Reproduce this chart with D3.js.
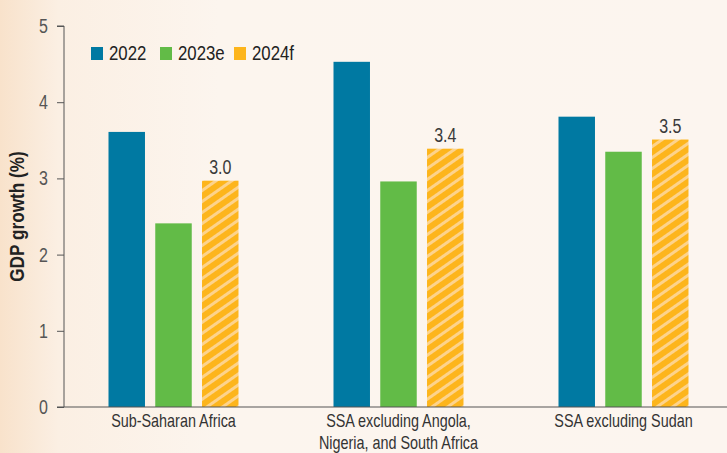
<!DOCTYPE html>
<html>
<head>
<meta charset="utf-8">
<script src="https://cdn.jsdelivr.net/npm/d3@7"></script>
<style>
  html, body { margin: 0; padding: 0; }
  body { width: 727px; height: 453px; overflow: hidden; }
  svg { display: block; font-family: "Liberation Sans", Arial, sans-serif; }
</style>
</head>
<body>
<div id="chart"></div>
<script>
// chart data
var categories = ["Sub-Saharan Africa", "SSA excluding Angola, Nigeria, and South Africa", "SSA excluding Sudan"];
var categoryLines = [["Sub-Saharan Africa"], ["SSA excluding Angola,", "Nigeria, and South Africa"], ["SSA excluding Sudan"]];
var series = ["2022", "2023e", "2024f"];
var values2022 = [3.61, 4.53, 3.81];
var values2023 = [2.41, 2.96, 3.35];
var values2024 = [2.97, 3.39, 3.51];
var labels2024 = ["3.0", "3.4", "3.5"];
var yTicks = [0, 1, 2, 3, 4, 5];

var colors = { "2022": "#0079a2", "2023e": "#62bb47", "2024f": "url(#hatch)" };
var legendColors = { "2022": "#0079a2", "2023e": "#62bb47", "2024f": "#fdb51c" };

// the original uses a condensed face; squeeze Liberation Sans horizontally
var SQ = 0.8;
function squeeze(sel, sx) {
  sel.each(function() {
    var t = d3.select(this);
    var x = +t.attr("x") || 0, y = +t.attr("y") || 0;
    t.attr("x", null).attr("y", null)
      .attr("transform", "translate(" + x + "," + y + ") scale(" + sx + ",1)");
  });
}

var W = 727, H = 453;
var svg = d3.select("#chart").append("svg").attr("width", W).attr("height", H);

var defs = svg.append("defs");
var grad = defs.append("linearGradient").attr("id", "bg").attr("x1", 0).attr("x2", 1).attr("y1", 0).attr("y2", 0);
grad.append("stop").attr("offset", "0%").attr("stop-color", "#f8e2cb");
grad.append("stop").attr("offset", "8%").attr("stop-color", "#fbefe3");
grad.append("stop").attr("offset", "30%").attr("stop-color", "#fcf5ee");
grad.append("stop").attr("offset", "100%").attr("stop-color", "#fcf5ef");

var hatch = defs.append("pattern").attr("id", "hatch")
  .attr("patternUnits", "userSpaceOnUse").attr("width", 9).attr("height", 9)
  .attr("patternTransform", "rotate(-35)");
hatch.append("rect").attr("width", 9).attr("height", 9).attr("fill", "#fdb51c");
hatch.append("rect").attr("width", 9).attr("height", 3).attr("fill", "#fdd38c");

svg.append("rect").attr("width", W).attr("height", H).attr("fill", "url(#bg)");

var margin = { left: 64, top: 26, bottom: 46 };
var y = d3.scaleLinear().domain([0, 5]).range([H - margin.bottom, margin.top]);
var x0 = d3.scaleBand().domain(categories).range([61, 736]);
var x1 = d3.scaleBand().domain(series).range([-65, 65]).paddingInner(0.22);

var rows = categories.map(function(c, i) {
  return { cat: c, vals: [
    { s: "2022", v: values2022[i] },
    { s: "2023e", v: values2023[i] },
    { s: "2024f", v: values2024[i], label: labels2024[i] }
  ] };
});

// bars
var groups = svg.selectAll("g.grp").data(rows).enter().append("g")
  .attr("class", "grp")
  .attr("transform", function(d) { return "translate(" + (x0(d.cat) + x0.bandwidth() / 2) + ",0)"; });

groups.selectAll("rect").data(function(d) { return d.vals; }).enter().append("rect")
  .attr("x", function(d) { return x1(d.s); })
  .attr("y", function(d) { return y(d.v); })
  .attr("width", x1.bandwidth())
  .attr("height", function(d) { return y(0) - y(d.v); })
  .attr("fill", function(d) { return colors[d.s]; });

groups.selectAll("text.val").data(function(d) { return d.vals.filter(function(v) { return v.label; }); })
  .enter().append("text").attr("class", "val")
  .attr("x", function(d) { return x1(d.s) + x1.bandwidth() / 2; })
  .attr("y", function(d) { return y(d.v) - 7; })
  .attr("text-anchor", "middle")
  .attr("font-size", 20).attr("fill", "#3a3a3a")
  .text(function(d) { return d.label; })
  .call(squeeze, SQ);

// y axis
var yAxis = d3.axisLeft(y).tickValues(yTicks).tickSize(7).tickPadding(9).tickFormat(d3.format("d"));
var yg = svg.append("g").attr("transform", "translate(" + margin.left + ",0)").call(yAxis);
yg.select(".domain").attr("stroke", "#555").attr("d", "M-7," + y(5) + "H0V" + y(0));
yg.selectAll(".tick line").attr("stroke", "#555");
yg.selectAll(".tick text").attr("font-size", 20).attr("fill", "#555")
  .attr("font-family", "Liberation Sans, Arial, sans-serif")
  .call(squeeze, SQ);

// x axis baseline
svg.append("line").attr("x1", margin.left - 7).attr("x2", W).attr("y1", y(0)).attr("y2", y(0))
  .attr("stroke", "#555").attr("stroke-width", 1.2);

// category labels
svg.selectAll("text.cat").data(categories).enter().append("text").attr("class", "cat")
  .attr("transform", function(d) { return "translate(" + (x0(d) + x0.bandwidth() / 2) + "," + (y(0) + 20) + ") scale(" + SQ + ",1)"; })
  .attr("text-anchor", "middle").attr("font-size", 18).attr("fill", "#333")
  .each(function(d, i) {
    var t = d3.select(this);
    categoryLines[i].forEach(function(line, j) {
      t.append("tspan").attr("x", 0).attr("dy", j === 0 ? 0 : 22).text(line);
    });
  });

// y axis title
svg.append("text").attr("transform", "translate(24," + y(2.5) + ") rotate(-90) scale(0.86,1)")
  .attr("text-anchor", "middle").attr("font-size", 20).attr("font-weight", "bold").attr("fill", "#222")
  .text("GDP growth (%)");

// legend
var legendX = [91, 160, 234];
var lg = svg.selectAll("g.leg").data(series).enter().append("g").attr("class", "leg")
  .attr("transform", function(d, i) { return "translate(" + legendX[i] + ",47)"; });
lg.append("rect").attr("width", 12).attr("height", 13).attr("fill", function(d) { return legendColors[d]; });
lg.append("text").attr("x", 18).attr("y", 13).attr("font-size", 21).attr("fill", "#222")
  .text(function(d) { return d; })
  .call(squeeze, SQ);
</script>
</body>
</html>
